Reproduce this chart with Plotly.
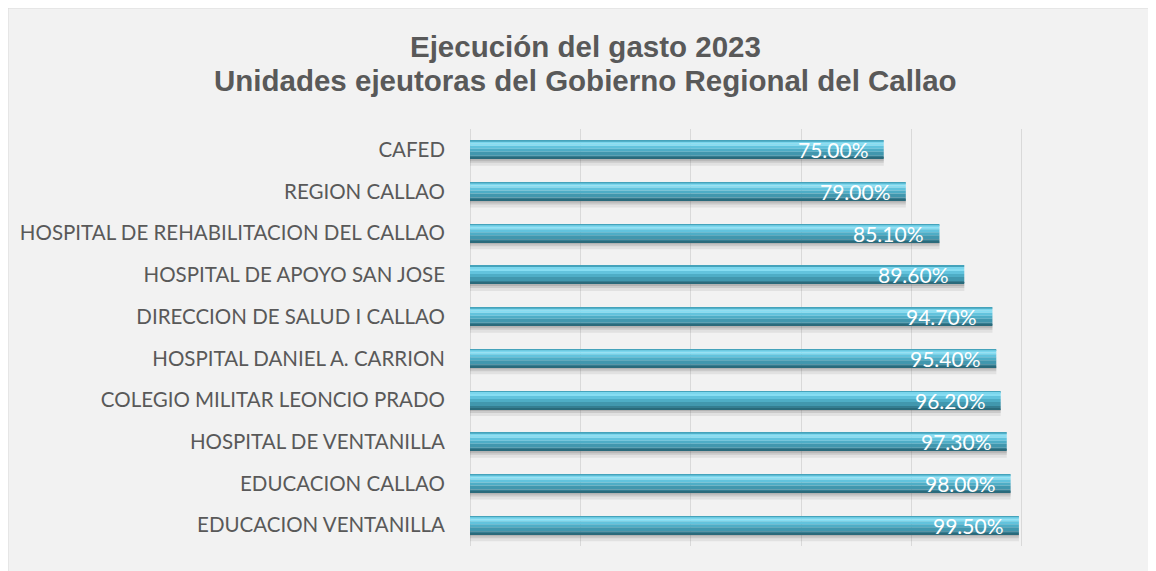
import plotly.graph_objects as go

categories = [
    "CAFED",
    "REGION CALLAO",
    "HOSPITAL DE REHABILITACION DEL CALLAO",
    "HOSPITAL DE APOYO SAN JOSE",
    "DIRECCION DE SALUD I CALLAO",
    "HOSPITAL DANIEL A. CARRION",
    "COLEGIO MILITAR LEONCIO PRADO",
    "HOSPITAL DE VENTANILLA",
    "EDUCACION CALLAO",
    "EDUCACION VENTANILLA",
]
values = [0.75, 0.79, 0.851, 0.896, 0.947, 0.954, 0.962, 0.973, 0.98, 0.995]
labels = ["75.00%", "79.00%", "85.10%", "89.60%", "94.70%", "95.40%",
          "96.20%", "97.30%", "98.00%", "99.50%"]

title_lines = ["Ejecución del gasto 2023",
               "Unidades ejeutoras del Gobierno Regional del Callao"]

# ---- layout geometry (page pixels; the page body adds an 8 px offset) ----
OFF = 8
FIG_W, FIG_H = 1156 - OFF, 571 - OFF
PLOT_L, PLOT_R, PLOT_T, PLOT_B = 470 - OFF, 1132 - OFF, 129 - OFF, 546 - OFF
PW, PH = PLOT_R - PLOT_L, PLOT_B - PLOT_T


def px(xp):
    return (xp - OFF - PLOT_L) / PW


def py(yp):
    return (PLOT_B - (yp - OFF)) / PH


# style: bands of the pseudo-3D bar, (top px, bottom px, colour), bar 18 px tall
PX_PER_CAT = PH / len(categories)
BAR_PX = 18.0
bands = [
    (18.0, 25.0, "rgba(110,110,110,0.12)"),   # soft shadow
    (18.0, 22.0, "rgba(100,100,100,0.18)"),
    (18.0, 20.0, "rgba(90,90,90,0.2)"),
    (0.0, 1.0, "#45a3bb"),
    (1.0, 3.0, "#7bd6ed"),
    (3.0, 5.0, "#86ddf2"),
    (5.0, 8.0, "#62c3dd"),
    (8.0, 11.0, "#4eadc6"),
    (11.0, 15.0, "#4197ae"),
    (15.0, 17.0, "#347d91"),
    (17.0, 18.0, "#2a6a7b"),
]

fig = go.Figure()
for top, bot, col in bands:
    off = -BAR_PX / 2 / PX_PER_CAT + top / PX_PER_CAT
    w = (bot - top) / PX_PER_CAT
    fig.add_trace(go.Bar(
        x=values, y=categories, orientation="h",
        width=[w] * len(values), offset=[off] * len(values),
        marker=dict(color=col, line=dict(width=0)),
        hoverinfo="skip", showlegend=False,
    ))

for v, c, t in zip(values, categories, labels):
    fig.add_annotation(x=v, y=c, text=t, showarrow=False, xanchor="right",
                       xshift=-13, yshift=0,
                       font=dict(family="Lato", size=21, color="white"))

for line, yp in zip(title_lines, [47, 80]):
    fig.add_annotation(text=line, xref="paper", yref="paper",
                       x=px(585), y=py(yp), xanchor="center", yanchor="middle",
                       showarrow=False,
                       font=dict(family="Liberation Sans", size=29.5,
                                 color="#595959", weight="bold"))

fig.update_layout(
    width=FIG_W, height=FIG_H,
    barmode="overlay",
    paper_bgcolor="#f2f2f2",
    plot_bgcolor="rgba(0,0,0,0)",
    margin=dict(l=PLOT_L, r=FIG_W - PLOT_R, t=PLOT_T, b=FIG_H - PLOT_B),
    xaxis=dict(range=[0, 1.2], dtick=0.2, showticklabels=False,
               showgrid=True, gridcolor="#d9d9d9", gridwidth=1,
               zeroline=True, zerolinecolor="#d9d9d9", zerolinewidth=1,
               fixedrange=True),
    yaxis=dict(categoryorder="array", categoryarray=categories,
               range=[9.5, -0.5], showgrid=False,
               tickfont=dict(family="Lato", size=20.5, color="#595959"),
               ticklabelstandoff=24, fixedrange=True),
    shapes=[
        dict(type="line", xref="paper", yref="paper",
             x0=px(7.5), x1=px(1156), y0=py(7.5), y1=py(7.5),
             line=dict(color="#d9d9d9", width=2), layer="below"),
        dict(type="line", xref="paper", yref="paper",
             x0=px(7.5), x1=px(7.5), y0=py(7.5), y1=py(571),
             line=dict(color="#d9d9d9", width=2), layer="below"),
    ],
)

fig.write_html("out.html")
